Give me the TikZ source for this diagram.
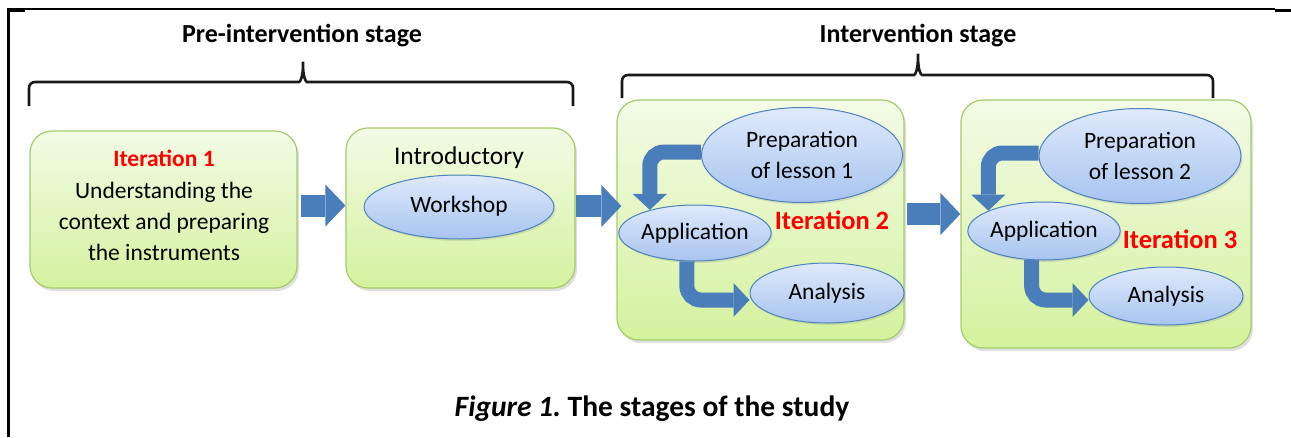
\documentclass[tikz,border=0pt]{standalone}
\usepackage{fontspec}
\setmainfont{Carlito}
\usetikzlibrary{arrows.meta,shadows,shapes.geometric}
\definecolor{boxtop}{HTML}{F3FBE6}
\definecolor{boxbot}{HTML}{D4F29E}
\definecolor{boxline}{HTML}{A6CB6A}
\definecolor{elltop}{HTML}{DFEAFB}
\definecolor{ellbot}{HTML}{A8C4EF}
\definecolor{ellline}{HTML}{4F81BD}
\definecolor{arrfill}{HTML}{4A7EBB}
\definecolor{itred}{HTML}{FF0000}
\newcommand{\bodyfont}{\fontsize{23.5}{31}\selectfont}
\begin{document}
\begin{tikzpicture}[x=1pt,y=-1pt,
  stagebox/.style={draw=boxline, line width=1.2pt, rounded corners=22pt,
    top color=boxtop, bottom color=boxbot,
    drop shadow={shadow xshift=2pt,shadow yshift=-3pt,opacity=0.25}},
  ovalbox/.style={ellipse, draw=ellline, line width=1pt, top color=elltop,
    bottom color=ellbot, inner sep=0pt, align=center, font=\bodyfont,
    drop shadow={shadow xshift=1.5pt,shadow yshift=-2pt,opacity=0.2}},
  txt/.style={align=center, font=\bodyfont, inner sep=0pt},
  redlbl/.style={font=\bodyfont\bfseries, text=itred, inner sep=0pt},
  redbig/.style={font=\fontsize{26.5}{30}\selectfont\bfseries, text=itred, inner sep=0pt},
  head/.style={font=\fontsize{26}{30}\selectfont\bfseries, inner sep=0pt},
  flowarrow/.style={draw=arrfill, line width=22pt,
    -{Triangle[width=42pt,length=20pt,line width=0pt]}},
  looparrow/.style={draw=arrfill, line width=15pt, rounded corners=14pt,
    -{Triangle[width=34pt,length=16pt,line width=0pt]}},
  brace/.style={draw=black!90, line width=2.6pt, rounded corners=6pt},
  frame/.style={draw=black, line width=1.2pt}
]
\useasboundingbox (0,0) rectangle (1291,437);

% frame
\draw[frame] (7,9) -- (1275,9);
\draw[draw=black, line width=3pt] (8.5,437) -- (8.5,10.5) -- (25,10.5);
\draw[draw=black, line width=2.5pt] (1275,10.5) -- (1291,10.5);

% headings
\node[head] (h1) at (302,36) {Pre-intervention stage};
\node[head] (h2) at (918,36) {Intervention stage};

% braces
\draw[brace] (29,106) -- (29,82) -- (293,82)
  .. controls (300,82) and (303,78) .. (303,58)
  .. controls (303,78) and (306,82) .. (313,82) -- (573,82) -- (573,106);
\draw[brace] (622,98) -- (622,75) -- (908,75)
  .. controls (915,75) and (918,71) .. (918,50)
  .. controls (918,71) and (921,75) .. (928,75) -- (1213,75) -- (1213,98);

% stage boxes
\node[stagebox, minimum width=267pt, minimum height=157pt] (b1) at (163.5,209.5) {};
\node[stagebox, minimum width=229pt, minimum height=160pt] (b2) at (460.5,208) {};
\node[stagebox, minimum width=287pt, minimum height=240pt] (b3) at (760.5,220) {};
\node[stagebox, minimum width=290pt, minimum height=248pt] (b4) at (1106,224) {};

% box 1 content
\node[redlbl] (it1) at (164,158) {Iteration 1};
\node[txt] (t1) at (164,221) {Understanding the\\context and preparing\\the instruments};

% box 2 content
\node[txt, font=\fontsize{25.5}{30}\selectfont] (intro) at (459,158) {Introductory};
\node[ovalbox, minimum width=190pt, minimum height=64pt] (ws) at (459,207) {\raisebox{5pt}{Workshop}};

% box 3 content
\node[ovalbox, minimum width=201pt, minimum height=95pt] (p1) at (802,155) {Preparation\\of lesson 1};
\node[ovalbox, minimum width=150pt, minimum height=56pt] (a1) at (695,233) {Application};
\node[ovalbox, minimum width=154pt, minimum height=60pt] (n1) at (827,293) {Analysis};
\node[redbig] (it2) at (832,220) {Iteration 2};

% box 4 content
\node[ovalbox, minimum width=202pt, minimum height=95pt] (p2) at (1140,156) {Preparation\\of lesson 2};
\node[ovalbox, minimum width=152pt, minimum height=58pt] (a2) at (1044,231) {Application};
\node[ovalbox, minimum width=154pt, minimum height=58pt] (n2) at (1166,296) {Analysis};
\node[redbig] (it3) at (1180,239) {Iteration 3};

% flow arrows between stages
\draw[flowarrow] ([xshift=3pt,yshift=4pt]b1.east) -- ([yshift=4pt]b1.east -| b2.west);
\draw[flowarrow] ([yshift=2pt]b2.east) -- ([xshift=5pt,yshift=2pt]b2.east -| b3.west);
\draw[flowarrow] ([xshift=2pt,yshift=6pt]b3.east) -- ([yshift=6pt]b3.east -| b4.west);

% loop arrows inside iterations
\draw[looparrow] ([yshift=3pt]p1.west) -| (a1.153);
\draw[looparrow] (a1.254) |- ([yshift=-7pt]n1.west);
\draw[looparrow] ([yshift=3pt]p2.west) -| (a2.160);
\draw[looparrow] (a2.247) |- ([yshift=-4pt]n2.west);

% caption
\node[font=\fontsize{29.5}{33}\selectfont, inner sep=0pt] (cap) at (652,409)
  {\bfseries\itshape Figure 1.\upshape\ The stages of the study};
\end{tikzpicture}
\end{document}
